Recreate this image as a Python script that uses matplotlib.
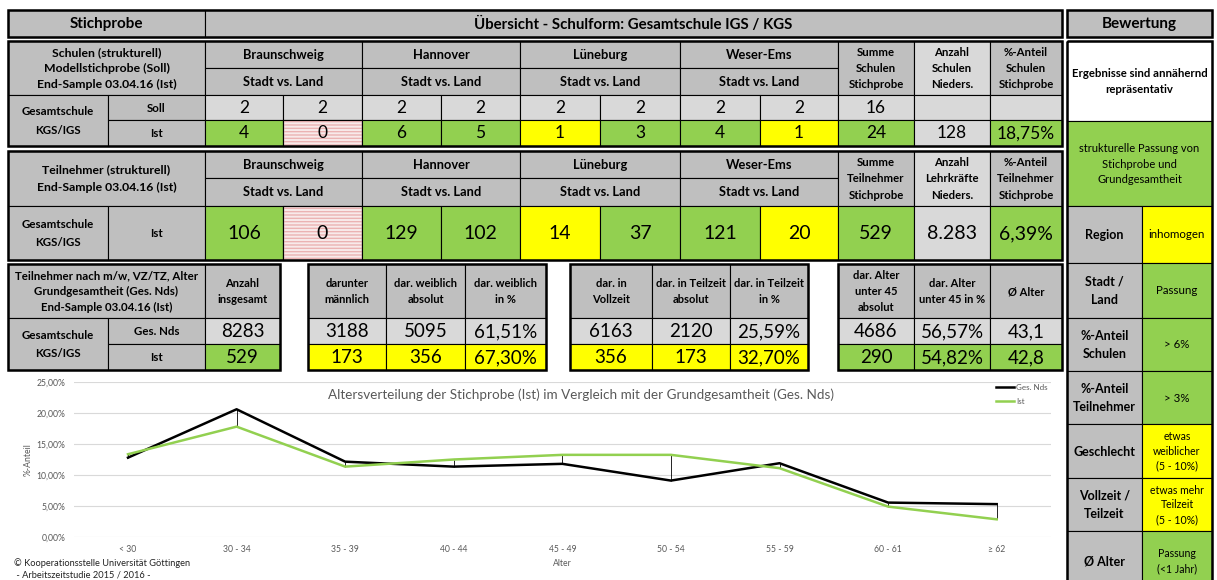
import matplotlib.pyplot as plt
from matplotlib.patches import Rectangle
import numpy as np

plt.rcParams['font.family'] = ['Lato', 'DejaVu Sans']

# ---- data ----
regions = ['Braunschweig', 'Hannover', 'Lüneburg', 'Weser-Ems']
schulen_soll = ['2', '2', '2', '2', '2', '2', '2', '2']
schulen_ist = ['4', '0', '6', '5', '1', '3', '4', '1']
schulen_status = ['g', 'p', 'g', 'g', 'y', 'g', 'g', 'y']
schulen_summe = ['16', '24']
schulen_nieders = '128'
schulen_anteil = '18,75%'

teilnehmer_ist = ['106', '0', '129', '102', '14', '37', '121', '20']
teilnehmer_status = ['g', 'p', 'g', 'g', 'y', 'g', 'g', 'y']
teilnehmer_summe = '529'
teilnehmer_nieders = '8.283'
teilnehmer_anteil = '6,39%'

merkmal_header = ['Anzahl\ninsgesamt', 'darunter\nmännlich', 'dar. weiblich\nabsolut',
                  'dar. weiblich\nin %', 'dar. in\nVollzeit', 'dar. in Teilzeit\nabsolut',
                  'dar. in Teilzeit\nin %', 'dar. Alter\nunter 45\nabsolut',
                  'dar. Alter\nunter 45 in %', 'Ø Alter']
merkmal_ges = ['8283', '3188', '5095', '61,51%', '6163', '2120', '25,59%', '4686', '56,57%', '43,1']
merkmal_ist = ['529', '173', '356', '67,30%', '356', '173', '32,70%', '290', '54,82%', '42,8']
merkmal_status = ['g', 'y', 'y', 'y', 'y', 'y', 'y', 'g', 'g', 'g']

bewertung_labels = ['Region', 'Stadt /\nLand', '%-Anteil\nSchulen', '%-Anteil\nTeilnehmer',
                    'Geschlecht', 'Vollzeit /\nTeilzeit', 'Ø Alter']
bewertung_werte = ['inhomogen', 'Passung', '> 6%', '> 3%', 'etwas\nweiblicher\n(5 - 10%)',
                   'etwas mehr\nTeilzeit\n(5 - 10%)', 'Passung\n(<1 Jahr)']
bewertung_status = ['y', 'g', 'g', 'g', 'y', 'y', 'g']

alter = ['< 30', '30 - 34', '35 - 39', '40 - 44', '45 - 49', '50 - 54', '55 - 59', '60 - 61', '≥ 62']
ges_nds = [12.8, 20.6, 12.15, 11.35, 11.8, 9.1, 11.9, 5.55, 5.3]
ist = [13.35, 17.8, 11.35, 12.5, 13.25, 13.25, 11.1, 4.9, 2.85]

# ---- colours ----
GRAY = '#BFBFBF'
LGRAY = '#D9D9D9'
COLS = {'g': '#92D050', 'y': '#FFFF00', 'p': '#F8EAEA', 'l': LGRAY, 'w': 'white'}

fig = plt.figure(figsize=(12.17, 5.80), dpi=100)
ax = fig.add_axes([0, 0, 1, 1])
ax.set_xlim(0, 1217)
ax.set_ylim(580, 0)
ax.axis('off')


def cell(x0, y0, x1, y1, txt='', fc=GRAY, fs=7.5, bold=True, ls=1.35, hatch=False):
    ax.add_patch(Rectangle((x0, y0), x1 - x0, y1 - y0, facecolor=fc, edgecolor='black', lw=0.8))
    if hatch:
        ax.add_patch(Rectangle((x0, y0), x1 - x0, y1 - y0, fill=False, edgecolor='#EBB3B3',
                               hatch='-----', lw=0))
        ax.add_patch(Rectangle((x0, y0), x1 - x0, y1 - y0, fill=False, edgecolor='black', lw=0.8))
    if txt:
        ax.text((x0 + x1) / 2, (y0 + y1) / 2 + 0.5, txt, ha='center', va='center', fontsize=fs,
                fontweight='bold' if bold else 'normal', linespacing=ls)


def frame(x0, y0, x1, y1, lw=1.8):
    ax.add_patch(Rectangle((x0, y0), x1 - x0, y1 - y0, fill=False, edgecolor='black', lw=lw))


def val(x0, y0, x1, y1, txt, st, fs=12.5):
    cell(x0, y0, x1, y1, txt, COLS[st], fs=fs, bold=False, hatch=(st == 'p'))


# top header row
cell(8, 10, 205, 37, 'Stichprobe', fs=11)
cell(205, 10, 1062, 37, 'Übersicht - Schulform: Gesamtschule IGS / KGS', fs=10.8)
frame(8, 10, 1062, 37)
cell(1067, 10, 1212, 37, 'Bewertung', fs=11)
frame(1067, 10, 1212, 37)

XR = [205, 283, 362, 441, 520, 600, 680, 760, 838]
XS = [838, 914, 990, 1062]

# table 1: schools
Y1 = [41, 68, 95, 120, 146]
cell(8, Y1[0], 205, Y1[2], 'Schulen (strukturell)\nModellstichprobe (Soll)\nEnd-Sample 03.04.16 (Ist)',
     fs=8.8, ls=1.55)
for i, r in enumerate(regions):
    cell(XR[2 * i], Y1[0], XR[2 * i + 2], Y1[1], r, fs=9.3)
    cell(XR[2 * i], Y1[1], XR[2 * i + 2], Y1[2], 'Stadt vs. Land', fs=9.3)
for i, t in enumerate(['Summe\nSchulen\nStichprobe', 'Anzahl\nSchulen\nNieders.',
                       '%-Anteil\nSchulen\nStichprobe']):
    cell(XS[i], Y1[0], XS[i + 1], Y1[2], t, fc=LGRAY if i == 1 else GRAY, fs=8.2, ls=1.6)
cell(8, Y1[2], 108, Y1[4], 'Gesamtschule\nKGS/IGS', fs=8.3, ls=1.8)
cell(108, Y1[2], 205, Y1[3], 'Soll', fs=8.3)
cell(108, Y1[3], 205, Y1[4], 'Ist', fs=8.3)
for i in range(8):
    val(XR[i], Y1[2], XR[i + 1], Y1[3], schulen_soll[i], 'l')
    val(XR[i], Y1[3], XR[i + 1], Y1[4], schulen_ist[i], schulen_status[i])
val(XS[0], Y1[2], XS[1], Y1[3], schulen_summe[0], 'l')
val(XS[1], Y1[2], XS[2], Y1[3], '', 'l')
val(XS[2], Y1[2], XS[3], Y1[3], '', 'l')
val(XS[0], Y1[3], XS[1], Y1[4], schulen_summe[1], 'g')
val(XS[1], Y1[3], XS[2], Y1[4], schulen_nieders, 'l')
val(XS[2], Y1[3], XS[3], Y1[4], schulen_anteil, 'g')
frame(8, Y1[0], 1062, Y1[4])

# table 2: participants
Y2 = [151, 178, 206, 260]
cell(8, Y2[0], 205, Y2[2], 'Teilnehmer (strukturell)\nEnd-Sample 03.04.16 (Ist)', fs=8.8, ls=1.75)
for i, r in enumerate(regions):
    cell(XR[2 * i], Y2[0], XR[2 * i + 2], Y2[1], r, fs=9.3)
    cell(XR[2 * i], Y2[1], XR[2 * i + 2], Y2[2], 'Stadt vs. Land', fs=9.3)
for i, t in enumerate(['Summe\nTeilnehmer\nStichprobe', 'Anzahl\nLehrkräfte\nNieders.',
                       '%-Anteil\nTeilnehmer\nStichprobe']):
    cell(XS[i], Y2[0], XS[i + 1], Y2[2], t, fc=LGRAY if i == 1 else GRAY, fs=8.2, ls=1.6)
cell(8, Y2[2], 108, Y2[3], 'Gesamtschule\nKGS/IGS', fs=8.3, ls=1.8)
cell(108, Y2[2], 205, Y2[3], 'Ist', fs=8.3)
for i in range(8):
    val(XR[i], Y2[2], XR[i + 1], Y2[3], teilnehmer_ist[i], teilnehmer_status[i], fs=14)
val(XS[0], Y2[2], XS[1], Y2[3], teilnehmer_summe, 'g', fs=14)
val(XS[1], Y2[2], XS[2], Y2[3], teilnehmer_nieders, 'l', fs=14)
val(XS[2], Y2[2], XS[3], Y2[3], teilnehmer_anteil, 'g', fs=14)
frame(8, Y2[0], 1062, Y2[3])

# table 3: gender / time / age
Y3 = [264, 318, 344, 370]
blocks = [[205, 280], [308, 386, 465, 546], [570, 652, 730, 808], [838, 914, 990, 1062]]
cell(8, Y3[0], 205, Y3[1], 'Teilnehmer nach m/w, VZ/TZ, Alter\nGrundgesamtheit (Ges. Nds)\nEnd-Sample 03.04.16 (Ist)',
     fs=8.3, ls=1.55)
cell(8, Y3[1], 108, Y3[3], 'Gesamtschule\nKGS/IGS', fs=8.3, ls=1.8)
cell(108, Y3[1], 205, Y3[2], 'Ges. Nds', fs=8.3)
cell(108, Y3[2], 205, Y3[3], 'Ist', fs=8.3)
k = 0
for b in blocks:
    for j in range(len(b) - 1):
        cell(b[j], Y3[0], b[j + 1], Y3[1], merkmal_header[k], fs=8, ls=1.6)
        val(b[j], Y3[1], b[j + 1], Y3[2], merkmal_ges[k], 'l', fs=13.5)
        val(b[j], Y3[2], b[j + 1], Y3[3], merkmal_ist[k], merkmal_status[k], fs=13.5)
        k += 1
    frame(b[0] if b[0] != 205 else 8, Y3[0], b[-1], Y3[3])

# rating column
BY = [41, 121, 206, 263, 318, 371, 424, 478, 531, 590]
cell(1067, BY[0], 1212, BY[1], 'Ergebnisse sind annähernd\nrepräsentativ', fc='white', fs=8.2, ls=1.5)
cell(1067, BY[1], 1212, BY[2], 'strukturelle Passung von\nStichprobe und\nGrundgesamtheit',
     fc=COLS['g'], fs=8, bold=False, ls=1.5)
for i in range(7):
    cell(1067, BY[i + 2], 1142, BY[i + 3], bewertung_labels[i], fs=9, ls=1.6)
    cell(1142, BY[i + 2], 1212, BY[i + 3], bewertung_werte[i], fc=COLS[bewertung_status[i]],
         fs=7.6 if '\n' in bewertung_werte[i] else 8.3, bold=False, ls=1.4)
frame(1067, BY[0], 1212, BY[-1])

# ---- line chart ----
cax = fig.add_axes([73.7 / 1217, (580 - 537) / 580, (1051 - 73.7) / 1217, (537 - 382) / 580])
cax.patch.set_alpha(0)
x = np.arange(len(alter))
cax.vlines(x, np.minimum(ges_nds, ist), np.maximum(ges_nds, ist), color='black', lw=0.6, zorder=1)
cax.plot(x, ges_nds, color='black', lw=1.8, label='Ges. Nds', zorder=3)
cax.plot(x, ist, color='#92D050', lw=1.8, label='Ist', zorder=3)
cax.set_xlim(-0.5, len(alter) - 0.5)
cax.set_ylim(0, 25)
yt = np.arange(0, 26, 5)
cax.set_yticks(yt)
cax.set_yticklabels([('%.2f%%' % v).replace('.', ',') for v in yt])
cax.set_xticks(x)
cax.set_xticklabels(alter)
cax.tick_params(length=0, labelsize=6.2, colors='#595959', pad=6)
cax.grid(axis='y', color='#D9D9D9', lw=0.8)
cax.set_axisbelow(True)
for s in cax.spines.values():
    s.set_visible(False)
cax.set_xlabel('Alter', fontsize=6.2, color='#595959', labelpad=3)
cax.set_ylabel('%-Anteil', fontsize=6.2, color='#595959', labelpad=3)
cax.text(0.519, 0.915, 'Altersverteilung der Stichprobe (Ist) im Vergleich mit der Grundgesamtheit (Ges. Nds)',
         transform=cax.transAxes, ha='center', va='center', fontsize=9.7, color='#595959')
cax.legend(loc='upper right', bbox_to_anchor=(1.0, 1.01), frameon=False, fontsize=5.8,
           handlelength=2.2, labelspacing=0.9, borderaxespad=0, handletextpad=0.3,
           labelcolor='#595959')

ax.text(14, 563, '© Kooperationsstelle Universität Göttingen', fontsize=6.7, va='center', color='#222222')
ax.text(14, 575, ' - Arbeitszeitstudie 2015 / 2016 -', fontsize=6.7, va='center', color='#222222')

fig.savefig('out.png', dpi=100)
